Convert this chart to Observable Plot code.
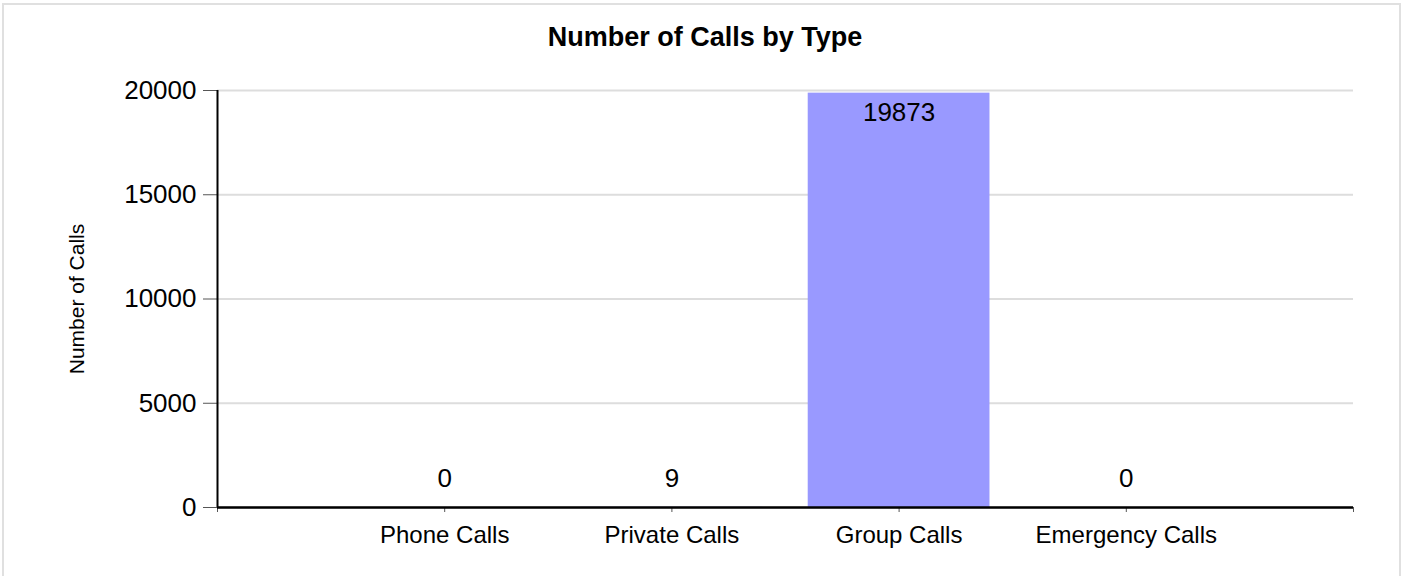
<!DOCTYPE html>
<html>
<head>
<meta charset="utf-8">
<script src="https://cdn.jsdelivr.net/npm/d3@7"></script>
<script src="https://cdn.jsdelivr.net/npm/@observablehq/plot@0.6"></script>
<style>
  html, body { margin: 0; padding: 0; background: #fff; }
  body { width: 1410px; height: 576px; overflow: hidden; position: relative; font-family: Arial, "Liberation Sans", sans-serif; }
  #frame { position: absolute; left: 2px; top: 3px; width: 1399px; height: 640px; border: 2px solid #e0e0e0; box-sizing: border-box; pointer-events: none; }
  #title { position: absolute; left: 0; top: 21px; width: 1410px; text-align: center; font-weight: bold; font-size: 27px; line-height: 32px; color: #000; }
  #chart { position: absolute; left: 0; top: 0; }
</style>
</head>
<body>
<div id="chart"></div>
<div id="title">Number of Calls by Type</div>
<div id="frame"></div>
<script>
const categories = ["Phone Calls", "Private Calls", "Group Calls", "Emergency Calls"];
const calls = [0, 9, 19873, 0];
const yTicks = [0, 5000, 10000, 15000, 20000];
const yLabel = "Number of Calls";

const data = categories.map((c, i) => ({category: c, pos: i + 1, value: calls[i]}));
const xTicks = d3.range(0, categories.length + 2);

const chart = Plot.plot({
  width: 1410,
  height: 576,
  marginLeft: 217,
  marginRight: 57,
  marginTop: 90,
  marginBottom: 69,
  style: {fontFamily: "Arial, 'Liberation Sans', sans-serif", background: "transparent", color: "#000"},
  x: {type: "linear", domain: [0, categories.length + 1]},
  y: {domain: [0, 20000]},
  marks: [
    Plot.gridY(yTicks, {stroke: "#dddddd", strokeOpacity: 1, strokeWidth: 2}),
    Plot.rectY(data, {x1: d => d.pos - 0.4, x2: d => d.pos + 0.4, y: "value", fill: "#9999ff"}),
    Plot.axisY({ticks: yTicks, tickFormat: d => String(d), tickSize: 14, tickPadding: 7, stroke: "#555", fill: "#000", fontSize: 26, label: null}),
    Plot.axisX({ticks: xTicks, tickFormat: i => categories[i - 1] ?? "", tickSize: 5, tickPadding: 13, stroke: "#555", fill: "#000", fontSize: 24, label: null}),
    Plot.ruleX([0], {stroke: "#000", strokeWidth: 2}),
    Plot.ruleY([0], {stroke: "#000", strokeWidth: 2.5}),
    Plot.text(data.filter(d => d.value >= 2000), {x: "pos", y: "value", text: d => String(d.value), dy: 20, fontSize: 26, fill: "#000"}),
    Plot.text(data.filter(d => d.value < 2000), {x: "pos", y: "value", text: d => String(d.value), dy: -29, fontSize: 26, fill: "#000"}),
    Plot.text([yLabel], {frameAnchor: "left", textAnchor: "middle", rotate: -90, dx: -140, fontSize: 21, fill: "#000"})
  ]
});
document.getElementById("chart").appendChild(chart);
</script>
</body>
</html>
